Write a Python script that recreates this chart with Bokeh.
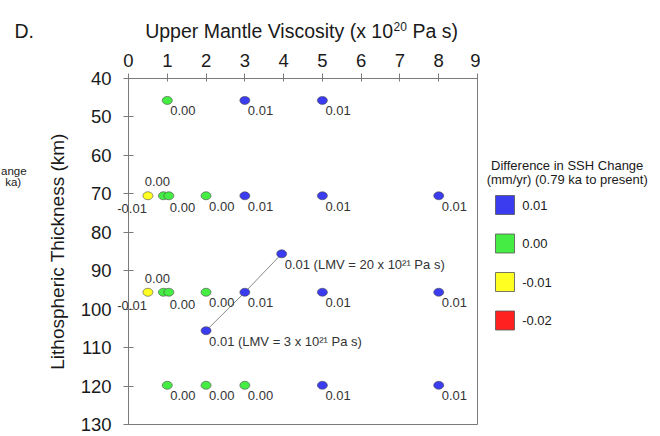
from bokeh.plotting import figure
from bokeh.models import Range1d, FixedTicker, ColumnDataSource
from bokeh.layouts import row
from bokeh.embed import file_html
from bokeh.resources import INLINE
from bokeh.core.properties import value

# ---------------- data ----------------
viscosity = [1, 3, 5,
             0.5, 0.9, 1.04, 2, 3, 5, 8,
             3.95,
             0.5, 0.9, 1.04, 2, 3, 5, 8,
             2,
             1, 2, 3, 5, 8]
thickness = [45.7, 45.7, 45.7,
             70.5, 70.5, 70.5, 70.5, 70.5, 70.5, 70.5,
             85.6,
             95.6, 95.6, 95.6, 95.6, 95.6, 95.6, 95.6,
             105.6,
             119.8, 119.8, 119.8, 119.8, 119.8]
ssh_diff = [0.00, 0.01, 0.01,
            -0.01, 0.00, 0.00, 0.00, 0.01, 0.01, 0.01,
            0.01,
            -0.01, 0.00, 0.00, 0.00, 0.01, 0.01, 0.01,
            0.01,
            0.00, 0.00, 0.00, 0.01, 0.01]
notes = ["", "", "",
         "", "", "", "", "", "", "",
         " (LMV = 20 x 10\u00b2\u00b9 Pa s)",
         "", "", "", "", "", "", "",
         " (LMV = 3 x 10\u00b2\u00b9 Pa s)",
         "", "", "", "", ""]

lmv_line_x = [2, 3, 3.95]
lmv_line_y = [105.6, 95.6, 85.6]

legend_labels = ["0.01", "0.00", "-0.01", "-0.02"]
legend_colors = ["#3b3bf0", "#44ec44", "#ffff22", "#ff2020"]
legend_title_lines = ["Difference in SSH Change", "(mm/yr) (0.79 ka to present)"]

x_ticks = [0, 1, 2, 3, 4, 5, 6, 7, 8, 9]
y_ticks = [40, 50, 60, 70, 80, 90, 100, 110, 120, 130]

panel_tag = "D."
title_parts = ["Upper Mantle Viscosity (x 10", "20", "Pa s)"]
y_label = "Lithospheric Thickness (km)"
side_fragments = ["ange", "ka)"]   # clipped text of the neighbouring panel

# ---------------- layout / style ----------------
FONT = "Liberation Sans"
AX = "#7a7a7a"
TXT = "#1a1a1a"
H = 436
B_LEFT, B_TOP, B_BOTTOM = 128, 78, 12
MAIN_W = 480
FRAME_R = MAIN_W - 3
XPX = (FRAME_R - B_LEFT) / (x_ticks[-1] - x_ticks[0])
YPX = (H - B_BOTTOM - B_TOP) / (y_ticks[-1] - y_ticks[0])


def px_x(px):
    return x_ticks[0] + (px - B_LEFT) / XPX


def px_y(py):
    return y_ticks[0] + (py - B_TOP) / YPX


label_place = ["br"] * len(viscosity)
for i in (3, 11):
    label_place[i] = "bl"
for i in (4, 12):
    label_place[i] = "ab"
for i in (5, 13):
    label_place[i] = "br2"
PLACE = {"br": ("left", 3, 10.5), "bl": ("right", -1, 13),
         "ab": ("center", -6, -14), "br2": ("left", 1, 12)}

color_for = dict(zip(legend_labels, legend_colors))
colors = [color_for["%.2f" % v] for v in ssh_diff]
labels = ["%.2f" % v + n for v, n in zip(ssh_diff, notes)]

p = figure(width=MAIN_W, height=H, x_range=Range1d(x_ticks[0], x_ticks[-1]),
           y_range=Range1d(y_ticks[-1], y_ticks[0]),
           x_axis_location="above", output_backend="svg", toolbar_location=None,
           min_border_left=B_LEFT, min_border_right=MAIN_W - FRAME_R,
           min_border_top=B_TOP, min_border_bottom=B_BOTTOM)
p.xgrid.visible = False
p.ygrid.visible = False
p.outline_line_color = AX

p.xaxis.ticker = FixedTicker(ticks=x_ticks)
p.yaxis.ticker = FixedTicker(ticks=y_ticks)
for ax in (p.xaxis[0], p.yaxis[0]):
    ax.axis_line_color = AX
    ax.major_tick_line_color = AX
    ax.minor_tick_line_color = None
    ax.major_label_text_font = FONT
    ax.major_label_text_font_size = "18.5px"
    ax.major_label_text_color = TXT
p.xaxis.major_tick_in = 3
p.xaxis.major_tick_out = 5
p.xaxis.major_label_standoff = 7
p.yaxis.major_tick_in = 5
p.yaxis.major_tick_out = 5
p.yaxis.major_label_standoff = 12
p.yaxis.axis_label = y_label
p.yaxis.axis_label_text_font = FONT
p.yaxis.axis_label_text_font_size = "19px"
p.yaxis.axis_label_text_font_style = "normal"
p.yaxis.axis_label_text_color = TXT
p.yaxis.axis_label_standoff = 10

p.line(lmv_line_x, lmv_line_y, line_color="#8a8a8a", line_width=1)

src = ColumnDataSource(dict(x=viscosity, y=thickness, color=colors))
p.ellipse(x="x", y="y", width=10, height=8, width_units="screen", height_units="screen",
          fill_color="color", line_color="#4a4a4a", line_width=0.6, source=src)

for align in ("left", "right", "center"):
    idx = [i for i, k in enumerate(label_place) if PLACE[k][0] == align]
    s = ColumnDataSource(dict(
        x=[viscosity[i] for i in idx], y=[thickness[i] for i in idx],
        t=[labels[i] for i in idx],
        dx=[PLACE[label_place[i]][1] for i in idx],
        dy=[PLACE[label_place[i]][2] for i in idx]))
    p.text(x="x", y="y", text="t", x_offset="dx", y_offset="dy", source=s,
           text_align=align, text_baseline="middle", text_font=value(FONT),
           text_font_size="13px", text_color="#333333", level="overlay")


def outside_text(px, py, txt, align, size, dy=0):
    p.text(x=[px_x(px)], y=[px_y(py)], text=[txt], y_offset=dy, text_align=align,
           text_baseline="alphabetic", text_font=value(FONT), text_font_size=size,
           text_color=TXT, level="overlay")


# texts outside the frame (panel tag, title with superscript, neighbour fragments)
TITLE_BASE = 30.7
SUP_AT = 392.5
outside_text(14, TITLE_BASE, panel_tag, "left", "19.5px")
outside_text(SUP_AT, TITLE_BASE, title_parts[0], "right", "19.5px")
outside_text(SUP_AT + 0.5, TITLE_BASE, title_parts[1], "left", "12px", dy=-5)
outside_text(SUP_AT + 19.5, TITLE_BASE, title_parts[2], "left", "19.5px")
outside_text(0.5, 170, side_fragments[0], "left", "11.5px")
outside_text(20.7, 181, side_fragments[1], "right", "11.5px")

# ---------------- legend panel (pixel coordinates) ----------------
LEG_W = 660 - MAIN_W
lf = figure(width=LEG_W, height=H, x_range=Range1d(MAIN_W, 660),
            y_range=Range1d(H - B_BOTTOM, B_TOP),
            x_axis_type=None, y_axis_type=None, output_backend="svg",
            toolbar_location=None, min_border_left=0, min_border_right=0,
            min_border_top=B_TOP, min_border_bottom=B_BOTTOM, outline_line_color=None)
lf.text(x=[566.7, 566.7], y=[165, 179], text=legend_title_lines, text_align="center",
        text_baseline="middle", text_font=value(FONT), text_font_size="13px",
        text_color=TXT)
ly = [204.5 + 38.5 * i for i in range(len(legend_labels))]
lf.rect(x=[504.5] * len(ly), y=ly, width=19, height=19, fill_color=legend_colors,
        line_color="#555555", line_width=0.8)
lf.text(x=[521.7] * len(ly), y=ly, text=legend_labels, text_align="left",
        text_baseline="middle", text_font=value(FONT), text_font_size="13px",
        text_color=TXT)

layout = row(p, lf)
open("out.html", "w").write(file_html(layout, INLINE))
